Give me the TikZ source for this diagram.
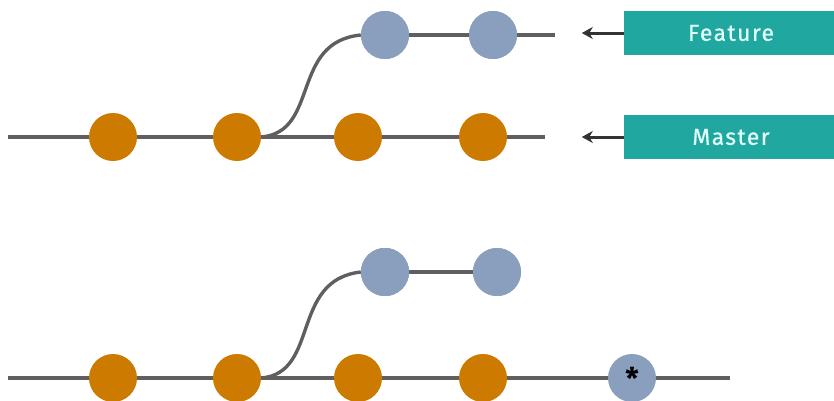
\documentclass[tikz,border=0pt]{standalone}
\usetikzlibrary{arrows.meta}
\usepackage{fontspec}
\setmainfont{Fira Sans}
\definecolor{orng}{RGB}{204,122,0}
\definecolor{bgrey}{RGB}{138,159,190}
\definecolor{lgrey}{RGB}{95,95,95}
\definecolor{teal1}{RGB}{32,168,160}
\definecolor{ltxt}{RGB}{225,252,250}
\begin{document}
\begin{tikzpicture}[x=1pt,y=-1pt,
  line/.style={draw=lgrey,line width=3.4pt},
  mc/.style={circle,fill=orng,minimum size=48pt,inner sep=0pt},
  fc/.style={circle,fill=bgrey,minimum size=48pt,inner sep=0pt},
  lab/.style={fill=teal1,text=ltxt,minimum width=210pt,minimum height=44pt,inner sep=0pt,font=\fontsize{23}{24}\selectfont\addfontfeatures{LetterSpace=6,FakeBold=0.6}},
  ptr/.style={draw=black!80,line width=3pt,-{Stealth[length=11pt,width=12pt]}}]
\useasboundingbox (0,0) rectangle (834,400);
% ---- top diagram ----
\coordinate (ms) at (8,137);
\coordinate (me) at (545,137);
\coordinate (fe) at (555,35);
\draw[line] (ms) -- (me);
\node[fc] (f1) at (385,35) {};
\node[fc] (f2) at (493,35) {};
\draw[line] (f1) -- (fe);
\node[mc] (m1) at (113,137) {};
\node[mc] (m2) at (237,137) {};
\node[mc] (m3) at (358,137) {};
\node[mc] (m4) at (483,137) {};
\draw[line] (m2.east) .. controls (320,132) and (290,42) .. (f1.west);
\node[fc] at (385,35) {};
\node[fc] at (493,35) {};
\node[lab] (feat) at (729,33) {\hspace*{4pt}Feature};
\node[lab] (mast) at (729,137) {\hspace*{4pt}Master};
\draw[ptr] (feat.west) -- ++(-42,0) coordinate (fa);
\draw[ptr] (mast.west) -- ++(-42,0) coordinate (ma);
% ---- bottom diagram ----
\coordinate (bs) at (8,378);
\coordinate (be) at (730,378);
\draw[line] (bs) -- (be);
\node[fc] (g1) at (385,272) {};
\node[fc] (g2) at (497,272) {};
\draw[line] (g1) -- (g2);
\node[fc] at (385,272) {};
\node[fc] at (497,272) {};
\node[mc] (n1) at (113,378) {};
\node[mc] (n2) at (237,378) {};
\node[mc] (n3) at (358,378) {};
\node[mc] (n4) at (483,378) {};
\draw[line] (n2.east) .. controls (320,373) and (290,280) .. (g1.west);
\node[fc] at (385,272) {};
\node[fc,font=\fontsize{30}{30}\selectfont\bfseries] (star) at (632,378) {\raisebox{-8pt}{*}};
\end{tikzpicture}
\end{document}
